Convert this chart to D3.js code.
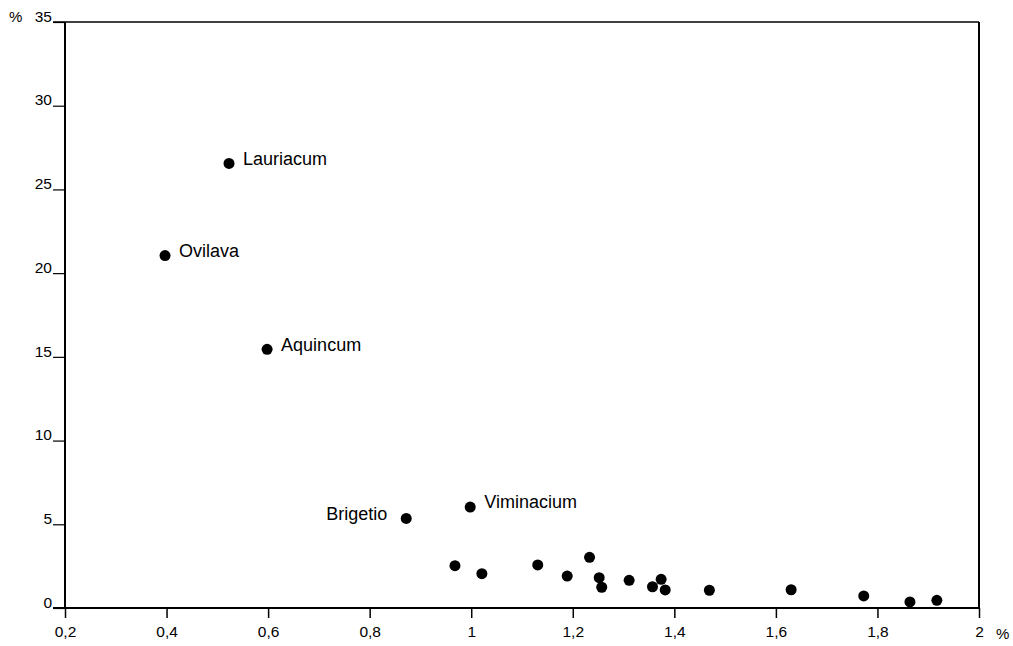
<!DOCTYPE html>
<html><head><meta charset="utf-8">
<script src="https://cdn.jsdelivr.net/npm/d3@7"></script>
<style>
body{margin:0;background:#fff;}
svg{display:block;font-family:"Liberation Sans",Arial,sans-serif;}
</style></head><body>
<svg id="chart" width="1013" height="646"></svg>
<script>
// Data
const names = ["Lauriacum","Ovilava","Aquincum","Brigetio","Viminacium",
  "","","","","","","","","","","","","","","",""];
const xValues = [0.523,0.397,0.598,0.872,0.998,
  0.968,1.021,1.131,1.189,1.233,1.252,1.257,1.311,1.357,1.374,1.382,1.469,1.630,1.773,1.864,1.917];
const yValues = [26.55,21.05,15.45,5.35,6.03,
  2.53,2.05,2.57,1.91,3.03,1.81,1.24,1.65,1.27,1.71,1.08,1.06,1.09,0.72,0.36,0.46];
const labelSide = ["right","right","right","left","right"];
const xTicks = [0.2,0.4,0.6,0.8,1,1.2,1.4,1.6,1.8,2];
const yTicks = [0,5,10,15,20,25,30,35];

const svg = d3.select("#chart");
const x = d3.scaleLinear().domain([0.2,2]).range([65,979]);
const y = d3.scaleLinear().domain([0,35]).range([608,22]);
const fmt = d => String(d).replace(".", ",");
const FONT = "Liberation Sans, Arial, sans-serif";

// frame top and right
svg.append("line").attr("x1",53).attr("x2",979).attr("y1",y(35)).attr("y2",y(35))
  .attr("stroke","#000").attr("stroke-width",1.3);
svg.append("line").attr("x1",979).attr("x2",979).attr("y1",y(35)).attr("y2",y(0))
  .attr("stroke","#000").attr("stroke-width",2);

// Y axis
const gy = svg.append("g").attr("transform","translate(65,0)")
  .call(d3.axisLeft(y).tickValues(yTicks).tickSize(12).tickFormat(d=>d));
gy.select(".domain").attr("stroke-width",2).attr("d",`M0,${y(35)}V${y(0)}`);
gy.selectAll(".tick line").attr("stroke-width",1.2);
gy.selectAll(".tick text").attr("x",-13).attr("dy","-0.05em")
  .attr("font-size",15.5).attr("font-family",FONT).attr("fill","#000");

// X axis
const gx = svg.append("g").attr("transform",`translate(0,${y(0)})`)
  .call(d3.axisBottom(x).tickValues(xTicks).tickSize(10).tickPadding(8).tickFormat(fmt));
gx.select(".domain").attr("stroke-width",2).attr("d",`M53,0H979`);
gx.selectAll(".tick line").attr("stroke-width",1.5);
gx.selectAll(".tick text").attr("font-size",15.5)
  .attr("font-family",FONT).attr("fill","#000");

// unit labels
svg.append("text").attr("x",9).attr("y",22).attr("font-size",15).attr("font-family",FONT).text("%");
svg.append("text").attr("x",996).attr("y",639).attr("font-size",15).attr("font-family",FONT).text("%");

// points
svg.append("g").selectAll("circle").data(xValues).join("circle")
  .attr("cx",(d)=>x(d)).attr("cy",(d,i)=>y(yValues[i])).attr("r",5.5).attr("fill","#000");

// labels
svg.append("g").selectAll("text").data(names.slice(0,5)).join("text")
  .attr("x",(d,i)=>labelSide[i]==="right" ? x(xValues[i])+14 : x(xValues[i])-19)
  .attr("y",(d,i)=>y(yValues[i]))
  .attr("dy","0.08em")
  .attr("text-anchor",(d,i)=>labelSide[i]==="right"?"start":"end")
  .attr("font-size",18).attr("font-family",FONT).attr("fill","#000").text(d=>d);
</script>
</body></html>
